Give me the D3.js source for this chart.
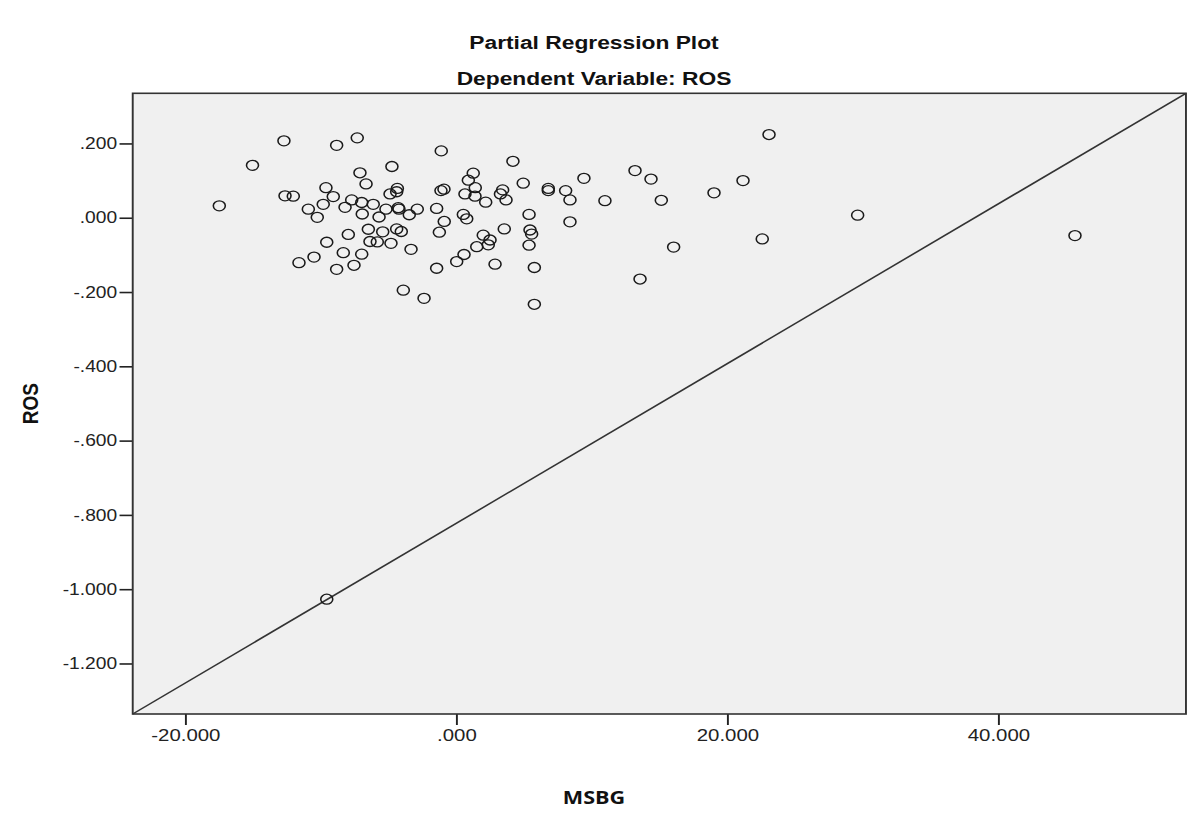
<!DOCTYPE html>
<html>
<head>
<meta charset="utf-8">
<script src="https://cdn.jsdelivr.net/npm/d3@7"></script>
<style>
  html, body { margin: 0; padding: 0; background: #fff; }
  svg { display: block; }
  .title { font-family: "Liberation Sans", Arial, sans-serif; font-weight: bold; font-size: 19px; fill: #111; }
  .tick-label { font-family: "Liberation Sans", Arial, sans-serif; fill: #222; }
  .axis-title { font-weight: bold; fill: #111; }
</style>
</head>
<body>
<div id="chart"></div>
<script>
// partial regression residuals
const msbg = [
  -17.49, -15.04, -12.72, -12.64, -12.03, -11.61, -10.92, -10.50, -10.26, -9.82,
  -9.62, -9.56, -9.08, -8.83, -8.83, -8.34, -8.21, -7.97, -7.72, -7.55,
  -7.31, -7.11, -6.98, -6.98, -6.94, -6.66, -6.49, -6.37, -6.13, -5.83,
  -5.70, -5.43, -5.19, -4.89, -4.82, -4.75, -4.40, -4.35, -4.28, -4.23,
  -4.40, -4.06, -3.91, -3.47, -3.34, -2.88, -2.38, -1.45, -1.45, -1.25,
  -1.11, -1.13, -0.91, -0.89, 0.03, 0.52, 0.57, 0.64, 0.77, 0.89,
  1.25, 1.40, 1.38, 1.51, 1.99, 2.17, 2.36, 2.49, 2.86, 3.54,
  3.42, 3.26, 3.67, 4.18, 4.94, 5.37, 5.44, 5.56, 5.37, 5.76,
  5.76, 6.79, 6.79, 8.07, 8.39, 8.39, 9.42, 10.97, 13.19, 14.37,
  15.13, 19.02, 21.16, 23.08, 22.58, 16.04, 13.56, 29.62, 45.66, -9.56
];
const ros = [
  0.032, 0.141, 0.207, 0.059, 0.058, -0.121, 0.023, -0.106, 0.001, 0.036,
  0.081, -0.066, 0.057, 0.195, -0.139, -0.094, 0.028, -0.045, 0.048, -0.128,
  0.215, 0.121, 0.041, -0.098, 0.010, 0.091, -0.031, -0.064, 0.036, -0.065,
  0.002, -0.038, 0.023, 0.064, -0.069, 0.138, 0.070, 0.079, 0.027, 0.023,
  -0.030, -0.037, -0.195, 0.008, -0.085, 0.023, -0.217, 0.025, -0.136, -0.039,
  0.180, 0.073, 0.077, -0.010, -0.118, 0.009, -0.099, 0.064, -0.003, 0.101,
  0.120, 0.081, 0.058, -0.078, -0.047, 0.042, -0.073, -0.060, -0.125, -0.030,
  0.075, 0.064, 0.048, 0.152, 0.093, 0.009, -0.033, -0.044, -0.074, -0.134,
  -0.233, 0.079, 0.073, 0.073, 0.048, -0.011, 0.106, 0.046, 0.127, 0.104,
  0.047, 0.067, 0.100, 0.224, -0.057, -0.079, -0.165, 0.007, -0.048, -1.027
];
const xTicks = [-20, 0, 20, 40];
const yTicks = [0.2, 0, -0.2, -0.4, -0.6, -0.8, -1.0, -1.2];
const xDomain = [-23.88, 53.85];
const yDomain = [-1.336, 0.335];
// reference line drawn in the original plot
const refLine = [[-23.88, -1.336], [53.85, 0.335]];

const titles = ["Partial Regression Plot", "Dependent Variable: ROS"];
const xTitle = "MSBG";
const yTitle = "ROS";

// the source image is stretched horizontally, so draw in a narrower box
const width = 1188;
const height = 817;
const sx = 1.2;
const vbWidth = width / sx;

const margin = { top: 93.3, right: vbWidth - 988.3, bottom: height - 714, left: 110.6 };

const svg = d3.select("#chart").append("svg")
  .attr("width", width)
  .attr("height", height)
  .attr("viewBox", [0, 0, vbWidth, height])
  .attr("preserveAspectRatio", "none");

const x = d3.scaleLinear().domain(xDomain).range([margin.left, vbWidth - margin.right]);
const y = d3.scaleLinear().domain(yDomain).range([height - margin.bottom, margin.top]);

// SPSS style: ".200", "-1.000", plain hyphen for minus
const fmt = (v) => {
  const s = d3.format(".3f")(v).replace("\u2212", "-");
  return s.replace(/^(-?)0\./, "$1.");
};

// titles
svg.selectAll("text.title")
  .data(titles)
  .join("text")
  .attr("class", "title")
  .attr("x", vbWidth / 2)
  .attr("y", (d, i) => 49 + i * 36)
  .attr("text-anchor", "middle")
  .text((d) => d);

// plot background
svg.append("rect")
  .attr("x", x.range()[0])
  .attr("y", y.range()[1])
  .attr("width", x.range()[1] - x.range()[0])
  .attr("height", y.range()[0] - y.range()[1])
  .attr("fill", "#f0f0f0");

// y axis
const yAxis = svg.append("g")
  .attr("transform", `translate(${margin.left},0)`)
  .call(d3.axisLeft(y).tickValues(yTicks).tickFormat(fmt).tickSize(11).tickPadding(2));
yAxis.select(".domain").remove();
yAxis.selectAll(".tick line").attr("stroke", "#222").attr("stroke-width", 1.6);
yAxis.selectAll(".tick text")
  .attr("class", "tick-label")
  .attr("font-size", 16)
  .attr("fill", "#222");

// x axis
const xAxis = svg.append("g")
  .attr("transform", `translate(0,${height - margin.bottom})`)
  .call(d3.axisBottom(x).tickValues(xTicks).tickFormat(fmt).tickSize(11).tickPadding(4));
xAxis.select(".domain").remove();
xAxis.selectAll(".tick line").attr("stroke", "#222").attr("stroke-width", 1.6);
xAxis.selectAll(".tick text")
  .attr("class", "tick-label")
  .attr("font-size", 17)
  .attr("fill", "#222");

// reference line
svg.append("path")
  .datum(refLine)
  .attr("d", d3.line().x((d) => x(d[0])).y((d) => y(d[1])))
  .attr("fill", "none")
  .attr("stroke", "#333")
  .attr("stroke-width", 1.5);

// points
svg.append("g")
  .selectAll("circle")
  .data(d3.zip(msbg, ros))
  .join("circle")
  .attr("cx", (d) => x(d[0]))
  .attr("cy", (d) => y(d[1]))
  .attr("r", 5)
  .attr("fill", "none")
  .attr("stroke", "#1a1a1a")
  .attr("stroke-width", 1.3);

// frame
svg.append("rect")
  .attr("x", x.range()[0])
  .attr("y", y.range()[1])
  .attr("width", x.range()[1] - x.range()[0])
  .attr("height", y.range()[0] - y.range()[1])
  .attr("fill", "none")
  .attr("stroke", "#333")
  .attr("stroke-width", 1.6);

// axis titles
svg.append("text")
  .attr("class", "axis-title")
  .attr("transform", `translate(31.5,${(margin.top + height - margin.bottom) / 2}) rotate(-90)`)
  .attr("text-anchor", "middle")
  .attr("font-family", "'Liberation Sans', Arial, sans-serif")
  .attr("font-size", 19)
  .text(yTitle);

svg.append("text")
  .attr("class", "axis-title")
  .attr("x", vbWidth / 2)
  .attr("y", 804)
  .attr("text-anchor", "middle")
  .attr("font-family", "'Open Sans', sans-serif")
  .attr("font-size", 18)
  .text(xTitle);
</script>
</body>
</html>
